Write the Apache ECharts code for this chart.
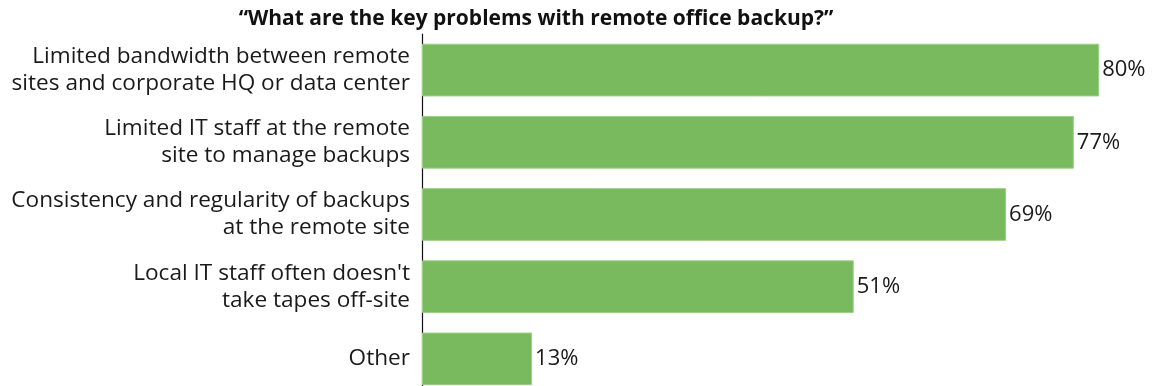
<!DOCTYPE html>
<html>
<head>
<meta charset="utf-8">
<script src="https://cdn.jsdelivr.net/npm/echarts@6/dist/echarts.min.js"></script>
<style>
  html, body { margin: 0; padding: 0; background: #fff; }
  #chart { width: 1154px; height: 386px; }
</style>
</head>
<body>
<div id="chart"></div>
<script>
// Survey answers, top to bottom
const categories = [
  'Limited bandwidth between remote\nsites and corporate HQ or data center',
  'Limited IT staff at the remote\nsite to manage backups',
  'Consistency and regularity of backups\nat the remote site',
  'Local IT staff often doesn\'t\ntake tapes off-site',
  'Other'
];
const percentages = [80, 77, 69, 51, 13];
const titleText = '\u201CWhat are the key problems with remote office backup?\u201D';

const FONT = '"Open Sans"';
const chart = echarts.init(document.getElementById('chart'), null, { renderer: 'canvas' });

chart.setOption({
  animation: false,
  backgroundColor: '#ffffff',
  title: {
    text: titleText,
    left: 531,
    textAlign: 'center',
    top: 4,
    textStyle: { fontFamily: FONT, fontSize: 21, fontWeight: 'bold', color: '#111' }
  },
  // the last bar runs past the bottom edge of the canvas
  grid: { left: 422, top: 34, width: 728, height: 361, outerBoundsMode: 'none' },
  xAxis: {
    type: 'value', min: 0, max: 86,
    show: false
  },
  yAxis: {
    type: 'category',
    inverse: true,
    data: categories,
    axisLine: { show: true, lineStyle: { color: '#111', width: 1.2 } },
    axisTick: { show: false },
    axisLabel: {
      margin: 12,
      fontFamily: FONT, fontSize: 22.6, color: '#1a1a1a',
      lineHeight: 27, align: 'right'
    }
  },
  series: [{
    type: 'bar',
    data: percentages,
    barCategoryGap: '27%',
    itemStyle: { color: '#79ba5e', borderColor: '#9ccf86', borderWidth: 1 },
    label: {
      show: true, position: 'right', distance: 3,
      formatter: '{c}%',
      fontFamily: FONT, fontSize: 22, color: '#1a1a1a'
    }
  }]
});
</script>
</body>
</html>
